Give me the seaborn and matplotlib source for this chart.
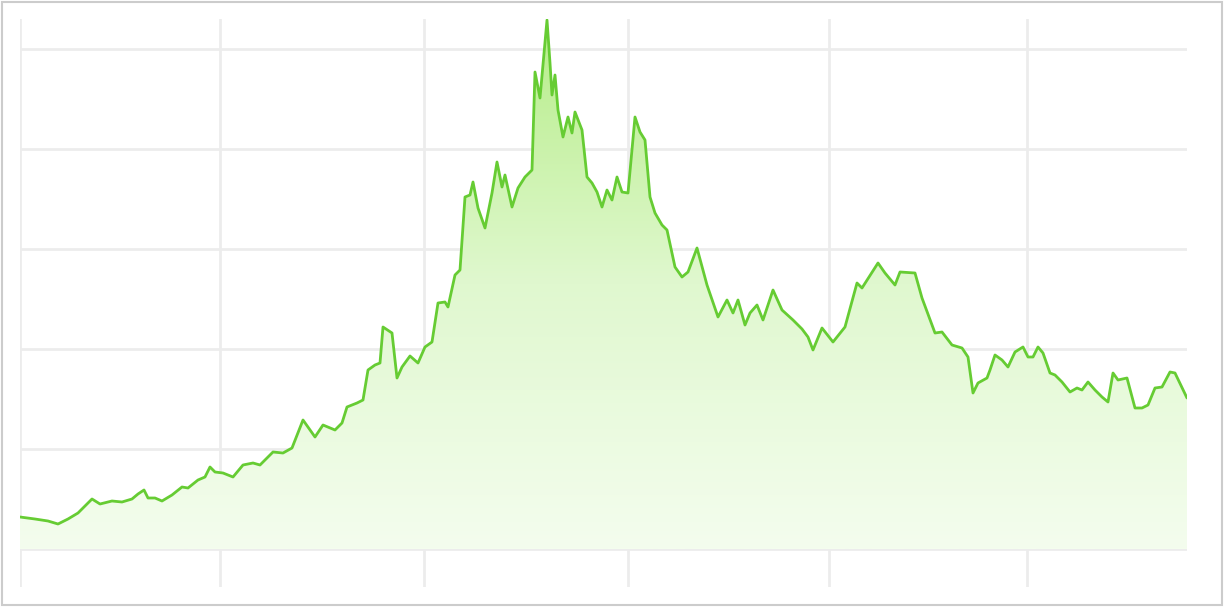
import numpy as np
import pandas as pd
import seaborn as sns
import matplotlib.pyplot as plt
from matplotlib.colors import LinearSegmentedColormap
from matplotlib.patches import Rectangle

# time positions (arbitrary units) and values, in stretches
x_early = [0, 15, 28, 38, 48, 58, 72, 80, 92, 102, 112, 118,
           124, 128, 135, 142, 152, 162, 168, 178, 185, 190, 195, 203]
v_early = [0.32, 0.30, 0.28, 0.25, 0.30, 0.36, 0.50, 0.45, 0.48, 0.47, 0.50, 0.55,
           0.59, 0.51, 0.51, 0.48, 0.54, 0.62, 0.61, 0.69, 0.72, 0.82, 0.77, 0.76]

x_rise = [213, 223, 233, 240, 253, 263, 272, 283, 295, 303, 315, 322,
          327, 337, 343, 348, 355, 360, 363, 372, 377, 382, 390, 398]
v_rise = [0.72, 0.84, 0.86, 0.84, 0.97, 0.96, 1.01, 1.29, 1.12, 1.24, 1.19, 1.26,
          1.42, 1.46, 1.49, 1.79, 1.84, 1.86, 2.22, 2.16, 1.71, 1.82, 1.93, 1.86]

x_boom = [405, 412, 418, 425, 428, 435, 440, 445, 450, 453,
          458, 465, 472, 477, 482, 485, 492, 498, 505, 512]
v_boom = [2.02, 2.07, 2.46, 2.47, 2.42, 2.74, 2.79, 3.52, 3.54, 3.67,
          3.41, 3.21, 3.56, 3.87, 3.62, 3.74, 3.42, 3.61, 3.72, 3.79]

x_peak = [515, 520, 527, 530, 532, 535, 538, 543, 548, 552, 555,
          562, 567, 572, 577, 582, 587, 592, 597, 602, 608, 615]
v_peak = [4.77, 4.51, 5.29, 4.86, 4.54, 4.74, 4.39, 4.12, 4.32, 4.16, 4.37,
          4.19, 3.72, 3.66, 3.57, 3.42, 3.59, 3.49, 3.72, 3.57, 3.56, 4.32]

x_fall = [620, 625, 630, 635, 642, 647, 655, 662, 668, 677, 687, 698, 707,
          713, 718, 725, 730, 737, 743, 753, 762, 773, 782, 788, 793]
v_fall = [4.17, 4.09, 3.52, 3.36, 3.24, 3.19, 2.82, 2.72, 2.77, 3.01, 2.64, 2.32, 2.49,
          2.36, 2.49, 2.24, 2.36, 2.44, 2.29, 2.59, 2.39, 2.29, 2.20, 2.12, 1.99]

x_hump = [802, 813, 825, 837, 842, 858, 865, 875, 880, 895,
          902, 915, 922, 932, 942, 948, 953, 958, 967]
v_hump = [2.21, 2.07, 2.22, 2.66, 2.61, 2.86, 2.76, 2.64, 2.77, 2.76,
          2.51, 2.16, 2.17, 2.04, 2.01, 1.92, 1.56, 1.66, 1.71]

x_late = [970, 975, 982, 988, 995, 1003, 1008, 1013, 1018, 1023, 1030, 1035, 1042, 1050, 1057, 1062,
          1068, 1075, 1082, 1088, 1093, 1098, 1107, 1115, 1122, 1128, 1135, 1142, 1150, 1155, 1167]
v_late = [1.79, 1.94, 1.89, 1.82, 1.97, 2.02, 1.92, 1.92, 2.02, 1.96, 1.76, 1.74, 1.67, 1.57, 1.61, 1.59,
          1.67, 1.59, 1.52, 1.47, 1.76, 1.69, 1.71, 1.41, 1.41, 1.44, 1.61, 1.62, 1.77, 1.76, 1.51]

x_grid = [0, 200, 404, 608, 809, 1007]
y_grid = [0, 1, 2, 3, 4, 5]

x_all = x_early + x_rise + x_boom + x_peak + x_fall + x_hump + x_late
v_all = v_early + v_rise + v_boom + v_peak + v_fall + v_hump + v_late
df = pd.DataFrame({"x": x_all, "value": v_all})

sns.set_style("white")
fig = plt.figure(figsize=(12.25, 6.07), dpi=100)
ax = fig.add_axes([20 / 1225, 20 / 607, 1167 / 1225, 568 / 607])

ax.set_xlim(0, 1167)
ax.set_ylim(-0.38, 5.30)

# gradient fill under the line, clipped to the area below it
cmap = LinearSegmentedColormap.from_list("grn", ["#f4fdee", "#e0f8cf", "#b6ed88"])
grad = np.linspace(0, 1, 256).reshape(-1, 1)
img = ax.imshow(grad, cmap=cmap, origin="lower", aspect="auto",
                extent=[0, 1167, 0, df["value"].max()], zorder=1)
poly = ax.fill_between(df["x"], 0, df["value"], color="none", linewidth=0, zorder=1)
img.set_clip_path(poly.get_paths()[0], transform=ax.transData)

sns.lineplot(data=df, x="x", y="value", color="#66cc33", linewidth=2.0, ax=ax, zorder=3)

for g in y_grid:
    ax.axhline(g, color="#ececec", linewidth=2, zorder=0.5)
for g in x_grid:
    ax.axvline(g, color="#ececec", linewidth=2, zorder=0.5)

ax.set_xticks([])
ax.set_yticks([])
ax.set_xlabel("")
ax.set_ylabel("")
for s in ax.spines.values():
    s.set_visible(False)

fig.patches.append(Rectangle((2 / 1225, 2 / 607), 1220 / 1225, 603 / 607, transform=fig.transFigure,
                             fill=False, edgecolor="#cccccc", linewidth=1.5))

fig.savefig("out.png", dpi=100)
